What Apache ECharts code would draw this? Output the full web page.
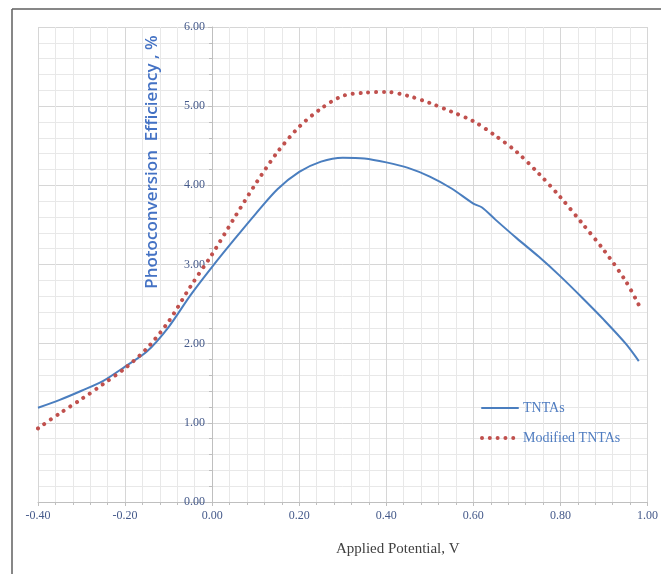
<!DOCTYPE html>
<html>
<head>
<meta charset="utf-8">
<script src="https://cdn.jsdelivr.net/npm/echarts@6/dist/echarts.min.js"></script>
<style>
html,body{margin:0;padding:0;background:#fff;}
#chart{width:661px;height:574px;}
</style>
</head>
<body>
<div id="chart"></div>
<script>
// ---- data ----
const potentialTNTAs = [-0.40,-0.35,-0.30,-0.25,-0.20,-0.15,-0.10,-0.05,0.00,0.05,0.10,0.15,0.20,0.25,0.30,0.35,0.40,0.45,0.50,0.55,0.60,0.62,0.65,0.70,0.75,0.80,0.85,0.90,0.95,0.98];
const tntas = [1.19,1.29,1.405,1.53,1.71,1.90,2.21,2.61,2.97,3.31,3.64,3.95,4.17,4.30,4.35,4.34,4.29,4.22,4.11,3.96,3.77,3.72,3.57,3.33,3.10,2.85,2.58,2.30,2.00,1.78];
const potentialModified = [-0.40,-0.35,-0.30,-0.25,-0.20,-0.15,-0.10,-0.05,0.00,0.05,0.10,0.15,0.20,0.25,0.30,0.35,0.40,0.45,0.50,0.55,0.60,0.65,0.70,0.75,0.80,0.85,0.90,0.95,0.98];
const modifiedTNTAs = [0.93,1.12,1.30,1.49,1.69,1.94,2.28,2.72,3.13,3.58,4.02,4.42,4.74,4.97,5.13,5.17,5.18,5.13,5.04,4.93,4.81,4.63,4.42,4.15,3.85,3.52,3.18,2.79,2.49];
const seriesNames = ['TNTAs','Modified TNTAs'];
const xTitle = 'Applied Potential, V';
const yTitle = 'Photoconversion  Efficiency , %';

const pair = (xs, ys) => xs.map((x, i) => [x, ys[i]]);
const labelColor = '#44598a';
const serif = '"Liberation Serif", "DejaVu Serif", serif';

const chart = echarts.init(document.getElementById('chart'), null, {renderer: 'canvas'});
chart.setOption({
  animation: false,
  backgroundColor: '#fff',
  grid: {left: 38, right: 11, top: 27, bottom: 72, containLabel: false},
  xAxis: {
    type: 'value', min: -0.4, max: 1.0, interval: 0.2,
    axisLine: {show: true, onZero: false, lineStyle: {color: '#bfbfbf', width: 1}},
    axisTick: {show: true, length: 4, lineStyle: {color: '#bfbfbf'}},
    minorTick: {show: true, splitNumber: 5, length: 3, lineStyle: {color: '#bfbfbf'}},
    splitLine: {show: true, lineStyle: {color: '#d6d6d6', width: 1}},
    minorSplitLine: {show: true, lineStyle: {color: '#e8e8e8', width: 1}},
    axisLabel: {color: labelColor, fontFamily: serif, fontSize: 12, margin: 8,
      formatter: v => v.toFixed(2)},
    name: xTitle, nameLocation: 'middle', nameGap: 40,
    nameTextStyle: {color: '#404040', fontFamily: serif, fontSize: 15, padding: [0,0,0,110]}
  },
  yAxis: {
    type: 'value', min: 0, max: 6, interval: 1,
    position: 'left', offset: -174,
    axisLine: {show: true, onZero: false, lineStyle: {color: '#bfbfbf', width: 1}},
    axisTick: {show: true, length: 4, lineStyle: {color: '#bfbfbf'}},
    minorTick: {show: true, splitNumber: 5, length: 3, lineStyle: {color: '#bfbfbf'}},
    splitLine: {show: true, lineStyle: {color: '#d6d6d6', width: 1}},
    minorSplitLine: {show: true, lineStyle: {color: '#e8e8e8', width: 1}},
    axisLabel: {color: labelColor, fontFamily: serif, fontSize: 12, margin: 7,
      formatter: v => v.toFixed(2)}
  },
  legend: {
    orient: 'vertical', left: 480, top: 401, itemGap: 16, padding: 0,
    itemWidth: 36, itemHeight: 14,
    itemStyle: {opacity: 0},
    lineStyle: {width: 'inherit', cap: 'round'},
    textStyle: {color: '#4f7cc0', fontFamily: serif, fontSize: 14},
    data: seriesNames
  },
  series: [
    {
      name: seriesNames[0], type: 'line', data: pair(potentialTNTAs, tntas),
      smooth: 0.3, symbol: 'none', z: 3,
      lineStyle: {color: '#4a7ebf', width: 2},
      itemStyle: {color: '#4a7ebf'}
    },
    {
      name: seriesNames[1], type: 'line', data: pair(potentialModified, modifiedTNTAs),
      smooth: 0.3, symbol: 'none', z: 4,
      lineStyle: {color: '#c0504d', width: 4, type: [0.01, 7.8], cap: 'round'},
      itemStyle: {color: '#c0504d'}
    }
  ],
  graphic: [
    {type: 'line', shape: {x1: 12, y1: 9, x2: 661, y2: 9}, style: {stroke: '#5f5f5f', lineWidth: 1.5}, z: 100},
    {type: 'line', shape: {x1: 12, y1: 9, x2: 12, y2: 574}, style: {stroke: '#5f5f5f', lineWidth: 1.5}, z: 100},
    {type: 'text', x: 152, y: 162, rotation: Math.PI / 2, z: 100,
      style: {text: yTitle, fill: '#4472c4', font: '600 17px "Open Sans", "Liberation Sans", sans-serif',
        align: 'center', verticalAlign: 'middle'}}
  ]
});
</script>
</body>
</html>
